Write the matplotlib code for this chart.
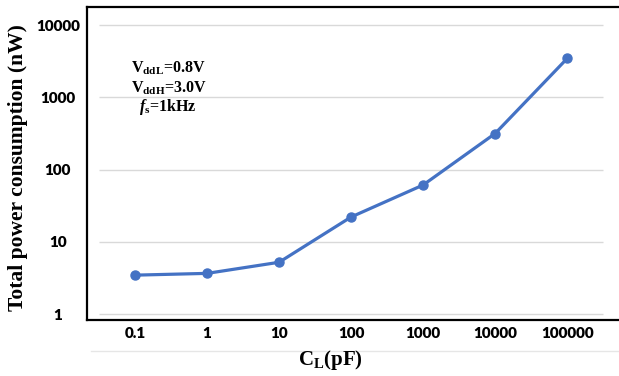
import matplotlib
matplotlib.use("Agg")
import matplotlib.pyplot as plt
from matplotlib.lines import Line2D

matplotlib.rcParams["mathtext.fontset"] = "custom"
matplotlib.rcParams["mathtext.rm"] = "Liberation Serif:bold"
matplotlib.rcParams["mathtext.bf"] = "Liberation Serif:bold"
matplotlib.rcParams["mathtext.it"] = "Liberation Serif:bold:italic"

# 数据
cap_labels = ["0.1", "1", "10", "100", "1000", "10000", "100000"]
power_nw = [3.45, 3.65, 5.2, 22, 61, 315, 3440]
y_ticks = [1, 10, 100, 1000, 10000]
y_tick_labels = ["1", "10", "100", "1000", "10000"]

fig = plt.figure(figsize=(6.19, 3.76), dpi=100)
W, H = 619, 376
ax = fig.add_axes([87 / W, 1 - 320 / H, 1 - 87 / W, (320 - 7) / H])

x = list(range(len(cap_labels)))
ax.set_yscale("log")
ax.set_ylim(0.826, 17750)
ax.set_xlim(-0.667, 6.72)

# 网格线
ax.hlines(y_ticks, -0.5, 6.5, color="#D9D9D9", linewidth=1.0, zorder=1)

ax.plot(x, power_nw, color="#4472C4", linewidth=2.3, marker="o", markersize=6.5, zorder=3)

ax.set_xticks(x)
ax.set_xticklabels(cap_labels, fontfamily="Lato", fontweight="heavy", fontsize=11)
ax.set_yticks(y_ticks)
ax.set_yticklabels(y_tick_labels, fontfamily="Lato", fontweight="heavy", fontsize=11, ha="center")
ax.minorticks_off()
ax.tick_params(axis="x", length=0, pad=5)
ax.tick_params(axis="y", length=0, pad=21)

for side in ["left", "bottom", "top"]:
    ax.spines[side].set_linewidth(1.6)
    ax.spines[side].set_color("black")
ax.spines["right"].set_visible(False)

fig.text(330 / W, 1 - 360 / H, r"C$_\mathbf{L}$(pF)", fontfamily="Liberation Serif",
         fontweight="bold", fontsize=15, ha="center", va="center")
fig.text(18 / W, 1 - 168 / H, "Total power consumption (nW)", fontfamily="Liberation Serif",
         fontweight="bold", fontsize=15.5, rotation=90, ha="center", va="center")

ax.text(0.082, 0.805, r"V$_\mathbf{ddL}$=0.8V", transform=ax.transAxes, fontfamily="Liberation Serif",
        fontweight="bold", fontsize=11.5, va="center")
ax.text(0.082, 0.74, r"V$_\mathbf{ddH}$=3.0V", transform=ax.transAxes, fontfamily="Liberation Serif",
        fontweight="bold", fontsize=11.5, va="center")
ax.text(0.097, 0.68, r"$\mathit{f}_\mathbf{s}$=1kHz", transform=ax.transAxes, fontfamily="Liberation Serif",
        fontweight="bold", fontsize=11.5, va="center")

# 底部浅色分隔线
fig.add_artist(Line2D([91 / W, 1], [1 - 351 / H, 1 - 351 / H], color="#E6E6E6", linewidth=1.0))

plt.savefig("out.png", dpi=100)
